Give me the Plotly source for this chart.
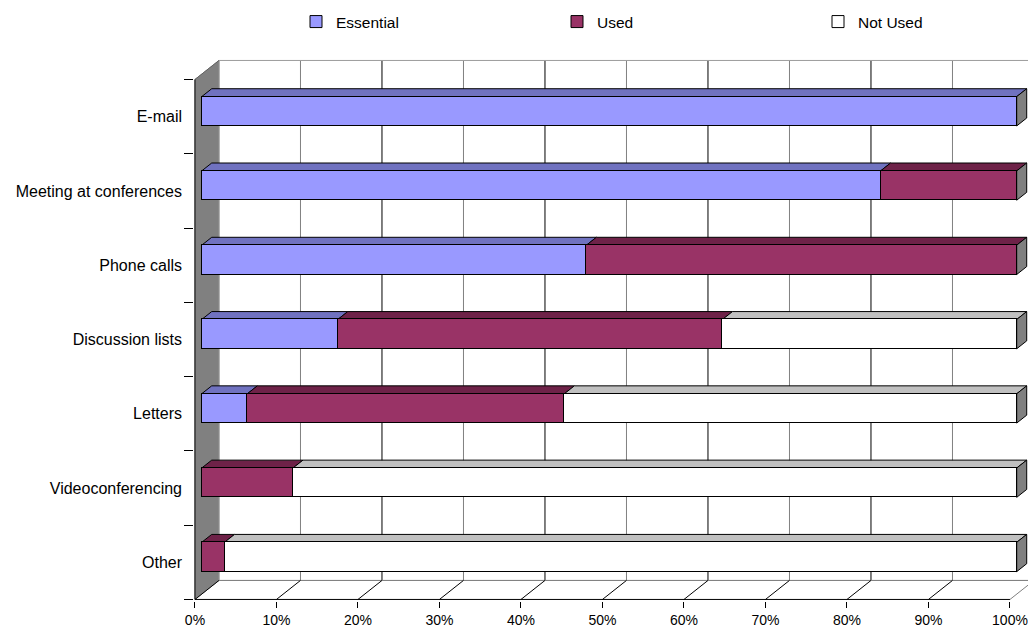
import plotly.graph_objects as go

# ---------------- data ----------------
categories = ["E-mail", "Meeting at conferences", "Phone calls", "Discussion lists",
              "Letters", "Videoconferencing", "Other"]
essential = [100, 83.3, 47.2, 16.7, 5.6, 0, 0]
used = [0, 16.7, 52.8, 47.2, 38.9, 11.2, 2.8]
not_used = [0, 0, 0, 36.1, 55.5, 88.8, 97.2]
series_names = ["Essential", "Used", "Not Used"]
pct_ticks = [0, 10, 20, 30, 40, 50, 60, 70, 80, 90, 100]
pct_labels = [f"{t}%" for t in pct_ticks]

# ---------------- styling / geometry ----------------
W, H = 1028, 627
FONT = "Liberation Sans, Arial, sans-serif"
front_cols = ["#9999FF", "#993366", "#FFFFFF"]
top_cols = ["#7072C0", "#6E2248", "#C0C0C0"]
SIDE_COL = "#808080"

PX_PER_PCT = 8.15
PX_PER_CAT = 74.28
X0_PX = 201.7      # bar front plane, 0%
Y0_PX = 111.3      # centre of first category (bar front plane)
DEPTH_X_PX, DEPTH_Y_PX = 24.0, 19.0
D_FRONT, D_BACK = 0.28, 0.697
BAR_W = 0.3945

ML, MR, MT, MB = 194, 0, 0, 26
xr = [(ML - X0_PX) / PX_PER_PCT, (W - MR - X0_PX) / PX_PER_PCT]
yr = [(H - MB - Y0_PX) / PX_PER_CAT, (MT - Y0_PX) / PX_PER_CAT]
DX = DEPTH_X_PX / PX_PER_PCT
DY = DEPTH_Y_PX / PX_PER_CAT
n = len(categories)
idx = list(range(n))


def pt(v, c, d):
    return (v + (d - D_FRONT) * DX, c - (d - D_FRONT) * DY)


def path(points):
    return "M " + " L ".join(f"{x:.4f},{y:.4f}" for x, y in points) + " Z"


shapes = []


def poly(points, fill, line="black", lw=1):
    shapes.append(dict(type="path", xref="x", yref="y", path=path(points),
                       fillcolor=fill, line=dict(color=line, width=lw), layer="below"))


def seg(p1, p2, color, lw=1):
    shapes.append(dict(type="line", xref="x", yref="y", x0=p1[0], y0=p1[1],
                       x1=p2[0], y1=p2[1], line=dict(color=color, width=lw), layer="below"))


top_c, bot_c = -0.5, n - 0.5
# back wall
poly([pt(0, top_c, 1), pt(100, top_c, 1), pt(100, bot_c, 1), pt(0, bot_c, 1)], "white", "#A0A0A0")
# left wall
poly([pt(0, top_c, 0), pt(0, top_c, 1), pt(0, bot_c, 1), pt(0, bot_c, 0)], SIDE_COL, "#909090")
# back-wall gridlines
for k, t in enumerate(pct_ticks[1:], start=1):
    seg(pt(t, top_c, 1), pt(t, bot_c, 1), "#808080" if k % 2 else "#000000")
seg(pt(0, top_c, 1), pt(100, top_c, 1), "#A0A0A0")
# floor
seg(pt(0, bot_c, 1), pt(100, bot_c, 1), "#808080")
seg(pt(0, bot_c, 0), pt(100, bot_c, 0), "black")
for t in pct_ticks:
    seg(pt(t, bot_c, 0), pt(t, bot_c, 1), "black" if t < 100 else "#808080")
seg(pt(0, top_c, 0), pt(0, top_c, 1), "#606060")
# front edge of the left wall (category axis line)
seg(pt(0, top_c, 0), pt(0, bot_c, 0), "black")

# bar 3D faces
series = [essential, used, not_used]
for i in idx:
    start = 0.0
    last_end = 0.0
    for s, vals in enumerate(series):
        v = vals[i]
        if v <= 0:
            continue
        a, b = start, start + v
        ct = i - BAR_W / 2
        poly([pt(a, ct, D_FRONT), pt(b, ct, D_FRONT), pt(b, ct, D_BACK), pt(a, ct, D_BACK)], top_cols[s])
        start = b
        last_end = b
    ct, cb = i - BAR_W / 2, i + BAR_W / 2
    poly([pt(last_end, ct, D_FRONT), pt(last_end, ct, D_BACK), pt(last_end, cb, D_BACK),
          pt(last_end, cb, D_FRONT)], SIDE_COL)

fig = go.Figure()
for s, vals in enumerate(series):
    fig.add_trace(go.Bar(
        y=idx, x=vals, orientation="h", name=series_names[s], width=BAR_W,
        marker=dict(color=front_cols[s], line=dict(color="black", width=1)),
        hoverinfo="skip"))

front_shift_x = D_FRONT * DX
front_shift_y = D_FRONT * DY
fig.update_layout(
    width=W, height=H, barmode="stack", bargap=0,
    margin=dict(l=ML, r=MR, t=MT, b=MB, autoexpand=False),
    paper_bgcolor="white", plot_bgcolor="white",
    font=dict(family=FONT, size=15, color="black"),
    shapes=shapes,
    showlegend=True,
    legend=dict(orientation="h", xref="container", yref="container",
                x=296 / W, y=1 - 5 / H, xanchor="left", yanchor="top",
                entrywidth=216, entrywidthmode="pixels", traceorder="normal",
                font=dict(family=FONT, size=15.5, color="black"),
                itemclick=False, itemdoubleclick=False),
    xaxis=dict(range=xr, automargin=False, showgrid=False, zeroline=False, showline=False,
               tickmode="array", tickvals=[t - front_shift_x for t in pct_ticks],
               ticktext=pct_labels, ticks="outside", ticklen=6, tickcolor="black",
               ticklabeloverflow="allow",
               tickfont=dict(family=FONT, size=14, color="black")),
    yaxis=dict(range=yr, automargin=False, showgrid=False, zeroline=False, showline=False,
               tickmode="array", tickvals=[i + front_shift_y for i in idx],
               ticktext=categories, ticks="", ticklabelstandoff=11,
               tickfont=dict(family=FONT, size=16, color="black"),
               minor=dict(tickmode="array",
                          tickvals=[i - 0.5 + front_shift_y for i in range(n + 1)],
                          ticks="outside", ticklen=9, tickcolor="black", tickwidth=1)),
)

fig.write_html("out.html", config={"displayModeBar": False},
               post_script="document.body.style.margin='0px';")
